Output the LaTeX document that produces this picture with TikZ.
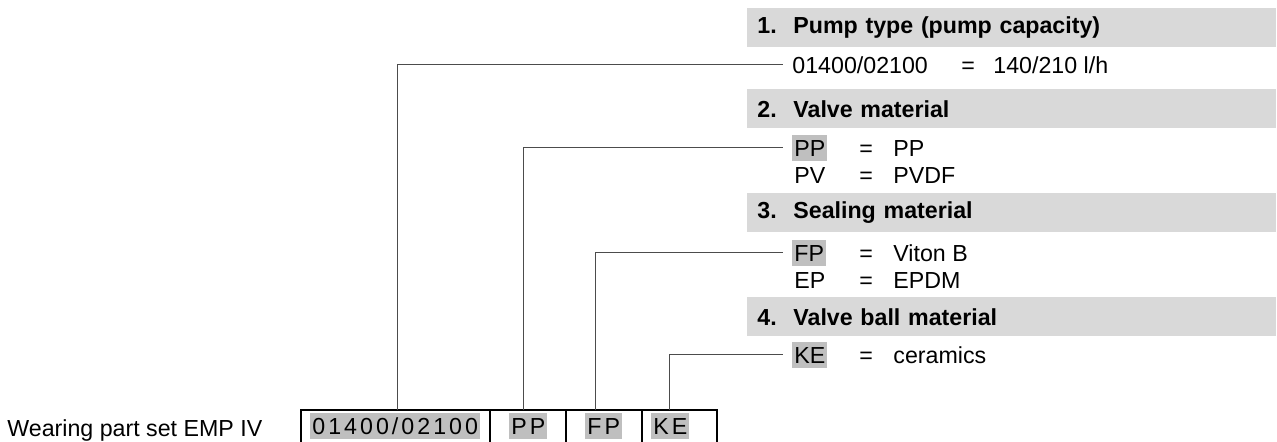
\documentclass[tikz,border=0pt]{standalone}
\usepackage{fontspec}
\setmainfont{Liberation Sans}
\newfontfamily\spacedfont[LetterSpace=13]{Liberation Sans}
\usepackage{tikz}
\definecolor{bargray}{gray}{0.85}
\definecolor{markgray}{gray}{0.75}
\definecolor{leadgray}{gray}{0.3}
\tikzset{
  text_font/.style = {font=\fontsize{11.6}{14}\selectfont},
  head_font/.style = {font=\fontsize{11.6}{14}\selectfont\bfseries},
  box_font/.style = {font=\spacedfont\fontsize{11.6}{14}\selectfont},
  full_size/.style = {text width=254.5pt}
}
\tikzset{
  plain/.style = {text_font, inner sep=0, anchor=base west},
  head/.style = {head_font, full_size, fill=bargray, align=left, anchor=north west,
    minimum height=19.5pt, inner xsep=5pt, inner ysep=0},
  code/.style = {text_font, inner xsep=1pt, inner ysep=0, text height=10.5pt,
    text depth=2.45pt, anchor=base west},
  marked/.style = {code, fill=markgray},
  box_code/.style = {marked, box_font, anchor=north west},
  cell/.style = {draw, line width=1pt, outer sep=0, minimum height=30pt, anchor=north west},
  leader/.style = {draw=leadgray, line width=0.5pt}
}
\usetikzlibrary{positioning, calc}

\begin{document}
\begin{tikzpicture}[x=0.5pt, y=-0.5pt, node distance=0]{
        \useasboundingbox (0,0) rectangle (1277,441);

        % 1. Pump type
        \node[head] at (747,8) (pump_head) {\makebox[18pt][l]{1.}Pump type (pump capacity)};
        \node[code] at (790,73) (pump_code) {01400/02100};
        \node[plain] at (961,73) (pump_eq) {=};
        \node[plain] at (993,73) (pump_val) {140/210 l/h};

        % 2. Valve material
        \node[head] at (747,89) (valve_head) {\makebox[18pt][l]{2.}Valve material};
        \node[marked] at (792,156) (valve_pp) {PP};
        \node[plain] at (859,156) (valve_pp_eq) {=};
        \node[plain] at (893,156) (valve_pp_val) {PP};
        \node[code] at (792,183) (valve_pv) {PV};
        \node[plain] at (859,183) (valve_pv_eq) {=};
        \node[plain] at (893,183) (valve_pv_val) {PVDF};

        % 3. Sealing material
        \node[head] at (747,193) (seal_head) {\makebox[18pt][l]{3.}Sealing material};
        \node[marked] at (792,261) (seal_fp) {FP};
        \node[plain] at (859,261) (seal_fp_eq) {=};
        \node[plain] at (893,261) (seal_fp_val) {Viton B};
        \node[code] at (792,288) (seal_ep) {EP};
        \node[plain] at (859,288) (seal_ep_eq) {=};
        \node[plain] at (893,288) (seal_ep_val) {EPDM};

        % 4. Valve ball material
        \node[head] at (747,297) (ball_head) {\makebox[18pt][l]{4.}Valve ball material};
        \node[marked] at (792,363) (ball_ke) {KE};
        \node[plain] at (859,363) (ball_ke_eq) {=};
        \node[plain] at (893,363) (ball_ke_val) {ceramics};

        % Order code
        \node[plain] at (7,436) (set_label) {Wearing part set EMP IV};
        \node[cell, minimum width=94.5pt] at (301,410) (cell_type) {};
        \node[cell, minimum width=38pt, right=of cell_type] (cell_valve) {};
        \node[cell, minimum width=38pt, right=of cell_valve] (cell_seal) {};
        \node[cell, minimum width=37.5pt, right=of cell_seal] (cell_ball) {};

        \node[box_code] at ([shift={(9,3)}]cell_type.north west) (type_mark) {01400/02100};
        \node[box_code] at ([shift={(19,3)}]cell_valve.north west) (valve_mark) {PP};
        \node[box_code] at ([shift={(19,3)}]cell_seal.north west) (seal_mark) {FP};
        \node[box_code] at ([shift={(9,3)}]cell_ball.north west) (ball_mark) {KE};

        % Leader lines
        \draw[leader] ([shift={(1.5,0)}]cell_type.north) |- ([shift={(-7,0)}]pump_code.west);
        \draw[leader] ([shift={(-5,0)}]cell_valve.north) |- ([shift={(-9,0)}]valve_pp.west);
        \draw[leader] ([shift={(-9,0)}]cell_seal.north) |- ([shift={(-9,0)}]seal_fp.west);
        \draw[leader] ([shift={(-10.5,0)}]cell_ball.north) |- ([shift={(-9,0)}]ball_ke.west);
        }
    \end{tikzpicture}
\end{document}
